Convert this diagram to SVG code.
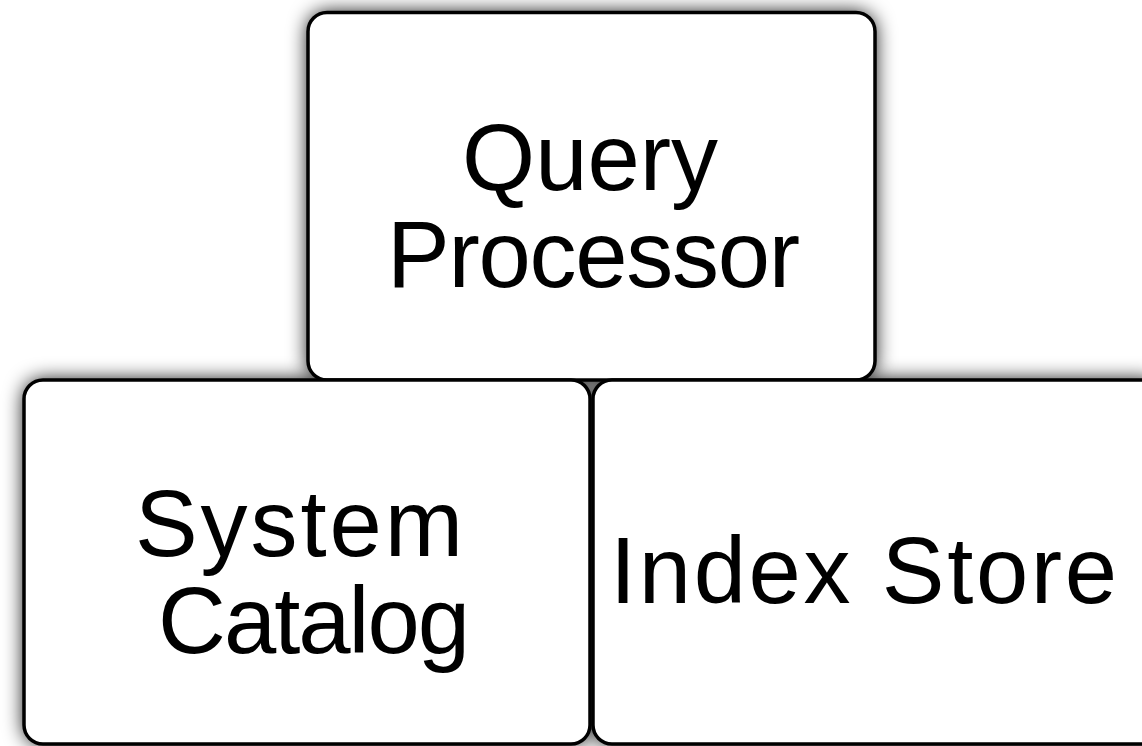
<svg xmlns="http://www.w3.org/2000/svg" width="1142" height="746" viewBox="0 0 1142 746">
  <defs>
    <filter id="shadow" x="-20%" y="-20%" width="140%" height="140%">
      <feGaussianBlur stdDeviation="10"/>
    </filter>
    <style>
      .box { fill: #ffffff; stroke: #000000; stroke-width: 3.5; }
      .sh { fill: #000000; opacity: 1; filter: url(#shadow); }
      .lbl { font-family: "Liberation Sans", Arial, Helvetica, sans-serif; font-size: 94px; fill: #000000; text-anchor: middle; }
    </style>
  </defs>
  <rect width="1142" height="746" fill="#ffffff"/>
  <g id="shadows">
    <rect class="sh" x="308" y="12.5" width="567" height="367.5" rx="19"/>
    <rect class="sh" x="24" y="380" width="566" height="364" rx="19"/>
    <rect class="sh" x="593" y="380" width="570" height="364" rx="19"/>
  </g>
  <g id="connectors"></g>
  <g id="query-processor">
    <rect class="box" x="308" y="12.5" width="567" height="367.5" rx="19"/>
    <text class="lbl" x="590" y="190" textLength="256" lengthAdjust="spacing">Query</text>
    <text class="lbl" x="593.5" y="287" textLength="413" lengthAdjust="spacing">Processor</text>
  </g>
  <g id="system-catalog">
    <rect class="box" x="24" y="380" width="566" height="364" rx="19"/>
    <text class="lbl" x="299" y="556" textLength="328" lengthAdjust="spacing">System</text>
    <text class="lbl" x="314" y="653" textLength="312" lengthAdjust="spacing">Catalog</text>
  </g>
  <g id="index-store">
    <rect class="box" x="593" y="380" width="570" height="364" rx="19"/>
    <text class="lbl" x="863.5" y="603" textLength="507" lengthAdjust="spacing">Index Store</text>
  </g>
</svg>
